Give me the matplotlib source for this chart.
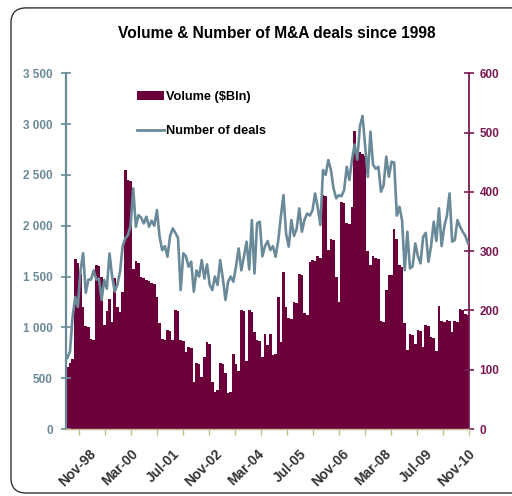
import numpy as np
import pandas as pd
import matplotlib
matplotlib.use("Agg")
import matplotlib.pyplot as plt
from matplotlib.patches import FancyBboxPatch, Patch
from matplotlib.lines import Line2D
from matplotlib.ticker import FuncFormatter

# monthly data, Mar-98 .. Nov-10
months = pd.date_range("1998-03-01", periods=153, freq="MS")
month_labels = [d.strftime("%b-%y") for d in months]

volume_bln = [
    104, 112, 118, 286, 280, 262, 206, 174, 172, 152,
    150, 277, 275, 257, 175, 199, 219, 180, 254, 206,
    197, 231, 437, 420, 418, 270, 283, 280, 257, 254,
    252, 250, 246, 244, 222, 179, 152, 150, 167, 165,
    150, 201, 199, 150, 148, 130, 138, 136, 79, 112,
    110, 88, 122, 146, 144, 79, 63, 65, 111, 109,
    94, 60, 62, 126, 109, 97, 201, 199, 115, 201,
    198, 164, 150, 148, 122, 161, 141, 161, 125, 127,
    223, 146, 265, 206, 187, 185, 215, 213, 261, 259,
    195, 193, 282, 285, 283, 291, 289, 395, 393, 302,
    320, 318, 257, 215, 383, 381, 347, 345, 375, 502,
    470, 468, 464, 460, 300, 276, 291, 289, 287, 183,
    181, 235, 259, 260, 337, 320, 276, 274, 178, 134,
    161, 159, 144, 167, 165, 138, 175, 173, 156, 154,
    132, 207, 183, 181, 184, 182, 164, 183, 181, 203,
    201, 194, 192,
]

num_deals = [
    700, 760, 1100, 1300, 1200, 1560, 1730, 1340, 1470, 1470,
    1560, 1470, 1480, 1270, 1466, 1380, 1728, 1500, 1351, 1420,
    1550, 1800, 1876, 1908, 2000, 2367, 1990, 2105, 2080, 2023,
    2089, 1990, 2050, 2000, 2154, 1892, 1760, 1800, 1695, 1900,
    1974, 1930, 1880, 1367, 1728, 1700, 1597, 1646, 1351, 1560,
    1500, 1662, 1480, 1620, 1420, 1367, 1500, 1417, 1662, 1480,
    1269, 1450, 1500, 1450, 1600, 1777, 1560, 1695, 1843, 1570,
    2056, 1531, 2023, 2040, 1700, 1800, 1850, 1760, 1800, 1695,
    1850, 2089, 2302, 1920, 1794, 2056, 1900, 1970, 2171, 1941,
    2060, 2120, 2100, 2150, 2318, 2180, 2007, 2548, 2500, 2646,
    2550, 2368, 2270, 2300, 2290, 2350, 2581, 2450, 2650, 2800,
    2650, 2980, 3080, 2780, 2480, 2925, 2600, 2560, 2580, 2335,
    2400, 2680, 2482, 2630, 2620, 2100, 2187, 2050, 1564, 1941,
    1580, 1600, 1826, 1700, 1630, 1892, 1930, 1646, 1800, 2040,
    1850, 2171, 1800, 1990, 2100, 2318, 1843, 1860, 2056, 1990,
    1940, 1900, 1826,
]

MAROON = "#6b003b"
MAROON_AXIS = "#7a1a52"
STEEL = "#6a8a99"
TAN = "#c9b98f"

plt.rcParams["font.family"] = ["Liberation Sans", "DejaVu Sans"]
plt.rcParams["font.weight"] = "bold"

fig = plt.figure(figsize=(5.12, 4.96), dpi=100)
ax = fig.add_axes([66 / 512, 1 - 429 / 496, (469.3 - 66) / 512, (429 - 73.3) / 496])
ax2 = ax.twinx()

x = np.arange(len(months))
ax2.bar(x, volume_bln, width=1.0, color=MAROON, linewidth=0)
ax.plot(x, num_deals, color=STEEL, lw=1.9, solid_joinstyle="round")
ax.set_zorder(ax2.get_zorder() + 1)
ax.patch.set_visible(False)

ax.set_xlim(-0.5, len(x) - 0.5)
ax.set_ylim(0, 3500)
ax2.set_ylim(0, 600)

ax.set_yticks(range(0, 3501, 500))
ax.yaxis.set_major_formatter(FuncFormatter(lambda v, p: f"{v:,.0f}".replace(",", " ")))
ax2.set_yticks(range(0, 601, 100))

ax.tick_params(axis="y", direction="inout", length=7, width=1.2, colors=STEEL,
               labelsize=8.5, pad=6)
ax2.tick_params(axis="y", direction="inout", length=7, width=1.2, colors=MAROON_AXIS,
                labelsize=8.5, pad=4)

for a in (ax, ax2):
    a.spines["top"].set_visible(False)
ax.spines["right"].set_visible(False)
ax2.spines["left"].set_visible(False)
ax2.spines["bottom"].set_visible(False)
ax.spines["left"].set_color(STEEL)
ax.spines["left"].set_linewidth(1.6)
ax2.spines["right"].set_color(MAROON_AXIS)
ax2.spines["right"].set_linewidth(1.3)
ax.spines["bottom"].set_color(TAN)
ax.spines["bottom"].set_linewidth(1.0)

label_idx = np.arange(8, len(months), 16)
ax.set_xticks(label_idx)
ax.set_xticklabels([month_labels[i] for i in label_idx], rotation=45, ha="right",
                   rotation_mode="anchor", fontsize=10, color="#333333")
ax.set_xticks(np.linspace(4.5, 152.5, 16), minor=True)
ax.tick_params(axis="x", which="major", length=0, pad=13)
ax.tick_params(axis="x", which="minor", length=4, width=1.0, color=TAN, direction="out")

fig.text(277 / 512, 1 - 34 / 496, "Volume & Number of M&A deals since 1998",
         ha="center", va="center", fontsize=11.2, fontweight="bold")

handles = [Patch(facecolor=MAROON, edgecolor="none"),
           Line2D([], [], color=STEEL, lw=2)]
ax.legend(handles, ["Volume ($Bln)", "Number of deals"], loc="upper left",
          bbox_to_anchor=(137 / 512, 1 - 91 / 496), bbox_transform=fig.transFigure,
          frameon=False, fontsize=9.2, handlelength=2.1, handleheight=0.65,
          handletextpad=0.2, labelspacing=1.75, borderpad=0, borderaxespad=0)

border = FancyBboxPatch((11 / 512, 3 / 496), 1.2, 0.978,
                        boxstyle="round,pad=0,rounding_size=0.03",
                        transform=fig.transFigure, fill=False, ec="#333333",
                        lw=1.0, clip_on=False)
fig.add_artist(border)

fig.savefig("out.png", dpi=100)
